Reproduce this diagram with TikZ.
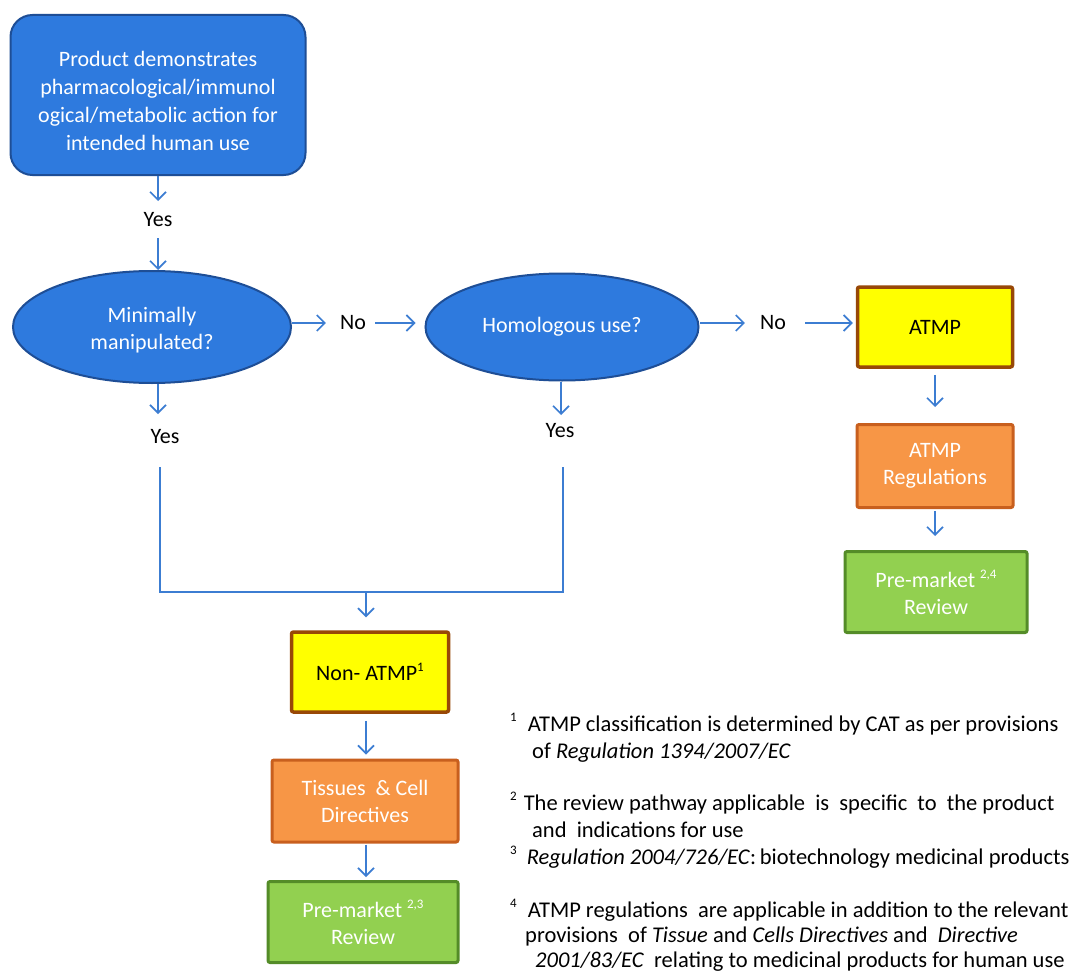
\documentclass[tikz,border=0pt]{standalone}
\usepackage{fontspec}
\setmainfont{Carlito}
\usetikzlibrary{arrows.meta,shapes.geometric,calc}
\definecolor{blueF}{RGB}{46,122,222}
\definecolor{blueD}{RGB}{30,78,150}
\definecolor{yelF}{RGB}{255,255,0}
\definecolor{yelD}{RGB}{152,72,7}
\definecolor{oraF}{RGB}{247,150,70}
\definecolor{oraD}{RGB}{200,95,30}
\definecolor{grnF}{RGB}{146,208,80}
\definecolor{grnD}{RGB}{84,140,40}
\definecolor{arrC}{RGB}{60,125,210}
\newcommand\mysup[1]{\raisebox{0.42em}{\fontsize{13}{13}\selectfont #1}}
\begin{document}
\begin{tikzpicture}[x=1pt,y=-1pt,
  base/.style={font=\fontsize{22}{27}\selectfont, align=center, inner sep=0pt},
  bluebox/.style={base, draw=blueD, line width=2pt, fill=blueF, text=white, rounded corners=22pt},
  ell/.style={base, ellipse, draw=blueD, line width=2pt, fill=blueF, text=white},
  ybox/.style={base, draw=yelD, fill=yelF, line width=3.5pt, rounded corners=2pt, text=black},
  obox/.style={base, draw=oraD, fill=oraF, line width=3pt, rounded corners=2pt, text=white},
  gbox/.style={base, draw=grnD, fill=grnF, line width=3pt, rounded corners=2pt, text=white},
  lbl/.style={base, text=black},
  fn/.style={font=\fontsize{22.5}{27}\selectfont, inner sep=0pt, anchor=base west, text=black},
  conn/.style={draw=arrC, line width=1.6pt},
  arr/.style={conn, -{Straight Barb[length=8pt,width=16pt,line width=1.6pt]}}
]
\useasboundingbox[fill=white] (0,0) rectangle (1072,974);

% top box
\node[bluebox, minimum width=295pt, minimum height=160pt, font=\fontsize{22}{28}\selectfont] (prod) at (158,95)
  {\rule{0pt}{27pt}Product demonstrates\\pharmacological/immunol\\ogical/metabolic action for\\intended human use};

% decision ellipses
\node[ell, minimum width=278pt, minimum height=112pt] (ell1) at (152,327) {\rule{0pt}{21pt}Minimally\\manipulated?};
\node[ell, minimum width=273pt, minimum height=107pt] (ell2) at (562,327) {Homologous use?};

% labels
\node[lbl] (yes1) at (158,220) {Yes};
\node[lbl] (no1) at (353,323) {No};
\node[lbl] (no2) at (773,323) {No};
\node[lbl] (yes2) at (165,437) {Yes};
\node[lbl] (yes3) at (560,431) {Yes};

% right column
\node[ybox, minimum width=155pt, minimum height=80pt] (atmp) at (935,327) {ATMP};
\node[obox, minimum width=156pt, minimum height=83pt] (reg) at (935,466) {ATMP\\Regulations};
\node[gbox, minimum width=182pt, minimum height=81pt] (pm1) at (936,592) {Pre-market \mysup{2,4}\\Review};

% bottom column
\node[ybox, minimum width=157pt, minimum height=80pt] (nonatmp) at (370,672) {Non- ATMP\mysup{1}};
\node[obox, minimum width=186pt, minimum height=82pt] (tissue) at (365,801) {Tissues \ \& Cell\\Directives};
\node[gbox, minimum width=190pt, minimum height=81pt] (pm2) at (363,922) {Pre-market \mysup{2,3}\\Review};

% helper coordinates
\coordinate (a1) at (158,201);
\coordinate (a2) at (158,238);
\coordinate (d1) at (158,414);
\coordinate (d2) at (561,415);
\coordinate (bl) at (160,467);
\coordinate (br) at (563,467);
\coordinate (bm) at (366,592);
\coordinate (vx) at (366,0);
\coordinate (rx) at (935,0);

% connectors
\draw[arr] (prod.south -| a1) -- (a1);
\draw[arr] (a2) -- (a2 |- ell1.north);
\draw[arr] (ell1.east |- no1) -- ($(no1.west)+(-14,0)$);
\draw[arr] ($(no1.east)+(9,0)$) -- ($(ell2.west |- no1)+(-9,0)$);
\draw[arr] (ell2.east |- no2) -- ($(no2.west)+(-15,0)$);
\draw[arr] ($(no2.east)+(19,0)$) -- ($(atmp.west |- no2)+(-3,0)$);
\draw[arr] ($(rx |- atmp.south)+(0,6)$) -- ($(rx |- reg.north)+(0,-16)$);
\draw[arr] ($(rx |- reg.south)+(0,2)$) -- ($(rx |- pm1.north)+(0,-14)$);
\draw[arr] (d1 |- ell1.south) -- (d1);
\draw[arr] (d2 |- ell2.south) -- (d2);
\draw[conn] (bl) |- (bm) -| (br);
\draw[arr] (bm) -- ($(bm |- nonatmp.north)+(0,-13)$);
\draw[arr] ($(vx |- nonatmp.south)+(0,7)$) -- ($(vx |- tissue.north)+(0,-4)$);
\draw[arr] ($(vx |- tissue.south)+(0,1)$) -- ($(vx |- pm2.north)+(0,-3)$);

% footnotes
\node[fn] (f1a) at (510,731) {\mysup{1}\hspace{11pt}ATMP classification is determined by CAT as per provisions};
\node[fn] (f1b) at (532,758) {of \textit{Regulation 1394/2007/EC}};
\node[fn] (f2a) at (510,810) {\mysup{2}\hspace{7pt}The review pathway applicable\ \ is\ \ specific\ \ to\ \ the product};
\node[fn] (f2b) at (532,837) {and\ \ indications for use};
\node[fn] (f3) at (510,864) {\mysup{3}\hspace{10pt}\textit{Regulation 2004/726/EC}:\,biotechnology medicinal products};
\node[fn] (f4a) at (510,917) {\mysup{4}\hspace{11pt}ATMP regulations\ \ are applicable in addition to the relevant};
\node[fn] (f4b) at (525,942) {provisions\ \ of \textit{Tissue} and \textit{Cells Directives} and\ \ \textit{Directive}};
\node[fn] (f4c) at (535,967) {\textit{2001/83/EC}\ \ relating to medicinal products for human use};
\end{tikzpicture}
\end{document}
